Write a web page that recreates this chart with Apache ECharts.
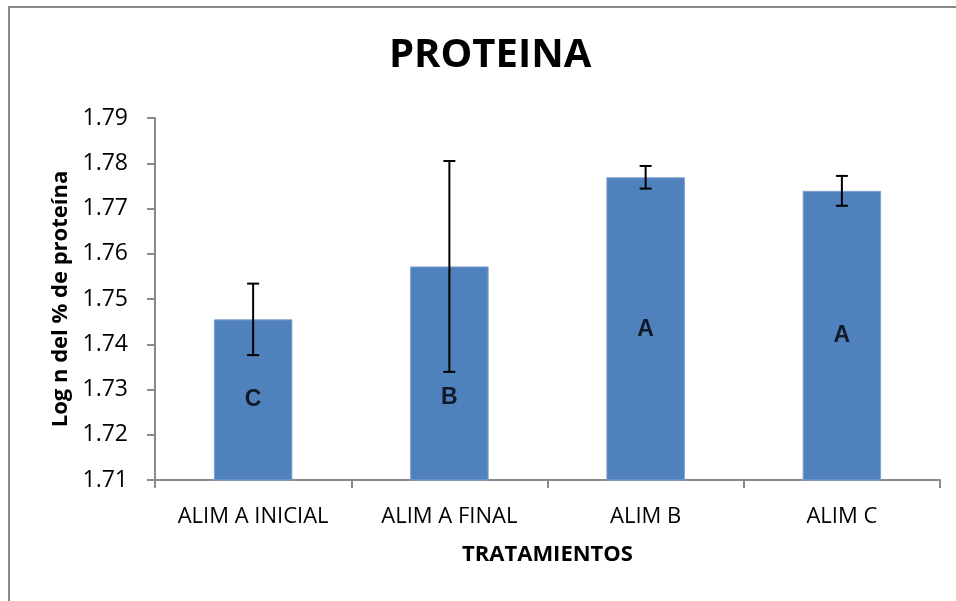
<!DOCTYPE html>
<html>
<head>
<meta charset="utf-8">
<script src="https://cdn.jsdelivr.net/npm/echarts@6/dist/echarts.min.js"></script>
<style>
  html, body { margin: 0; padding: 0; background: #fff; }
  #main { width: 956px; height: 601px; }
</style>
</head>
<body>
<div id="main"></div>
<script>
var categories = ['ALIM A INICIAL', 'ALIM A FINAL', 'ALIM B', 'ALIM C'];
var means = [1.7455, 1.7572, 1.7769, 1.7739];
var errors = [0.0079, 0.0233, 0.0025, 0.0033];
var letters = ['C', 'B', 'A', 'A'];
var letterPos = [1.7277, 1.7283, 1.7432, 1.7420];

var chart = echarts.init(document.getElementById('main'));

var errData = means.map(function (m, i) {
    return [i, m - errors[i], m + errors[i]];
});
var letterData = letters.map(function (l, i) {
    return { value: [i, letterPos[i]], name: l };
});

var option = {
    animation: false,
    textStyle: { fontFamily: 'Open Sans' },
    graphic: [{
        type: 'rect',
        shape: { x: 9, y: 7, width: 1000, height: 700 },
        style: { fill: 'none', stroke: '#8a8a8a', lineWidth: 2 },
        silent: true
    }],
    title: {
        text: 'PROTEINA',
        left: 384,
        top: 31,
        textStyle: { fontFamily: 'Open Sans', fontWeight: 'bold', fontSize: 40, color: '#000' }
    },
    grid: { left: 155, right: 16, top: 118, bottom: 121 },
    xAxis: {
        type: 'category',
        data: categories,
        name: 'TRATAMIENTOS',
        nameLocation: 'middle',
        nameGap: 64,
        nameTextStyle: { fontFamily: 'Open Sans', fontWeight: 'bold', fontSize: 22, color: '#000' },
        axisLine: { lineStyle: { color: '#8a8a8a', width: 2 } },
        axisTick: { show: true, length: 8, lineStyle: { color: '#8a8a8a', width: 2 } },
        axisLabel: { color: '#000', fontSize: 22, margin: 26, interval: 0, hideOverlap: false }
    },
    yAxis: {
        type: 'value',
        min: 1.71,
        max: 1.79,
        interval: 0.01,
        name: 'Log n del % de proteína',
        nameLocation: 'middle',
        nameGap: 80,
        nameTextStyle: { fontFamily: 'Open Sans', fontWeight: 'bold', fontSize: 22, color: '#000' },
        axisLine: { show: true, lineStyle: { color: '#8a8a8a', width: 2 } },
        axisTick: { show: true, length: 8, lineStyle: { color: '#8a8a8a', width: 2 } },
        splitLine: { show: false },
        axisLabel: {
            color: '#000',
            fontSize: 23,
            margin: 27,
            formatter: function (v) { return v.toFixed(2); }
        }
    },
    series: [
        {
            type: 'bar',
            data: means,
            barWidth: '40%',
            itemStyle: { color: '#4F81BD', borderColor: '#7ea2cf', borderWidth: 1 },
            z: 2
        },
        {
            type: 'custom',
            data: errData,
            z: 5,
            renderItem: function (params, api) {
                var x = api.value(0);
                var lo = api.coord([x, api.value(1)]);
                var hi = api.coord([x, api.value(2)]);
                var cap = 6;
                var st = { stroke: '#000', lineWidth: 2 };
                return {
                    type: 'group',
                    children: [
                        { type: 'line', shape: { x1: hi[0], y1: hi[1], x2: lo[0], y2: lo[1] }, style: st },
                        { type: 'line', shape: { x1: hi[0] - cap, y1: hi[1], x2: hi[0] + cap, y2: hi[1] }, style: st },
                        { type: 'line', shape: { x1: lo[0] - cap, y1: lo[1], x2: lo[0] + cap, y2: lo[1] }, style: st }
                    ]
                };
            }
        },
        {
            type: 'scatter',
            data: letterData,
            symbolSize: 0,
            z: 6,
            label: {
                show: true,
                position: 'inside',
                formatter: '{b}',
                fontFamily: 'Liberation Sans',
                fontWeight: 'bold',
                fontSize: 23,
                color: '#000'
            }
        }
    ]
};

chart.setOption(option);
</script>
</body>
</html>
